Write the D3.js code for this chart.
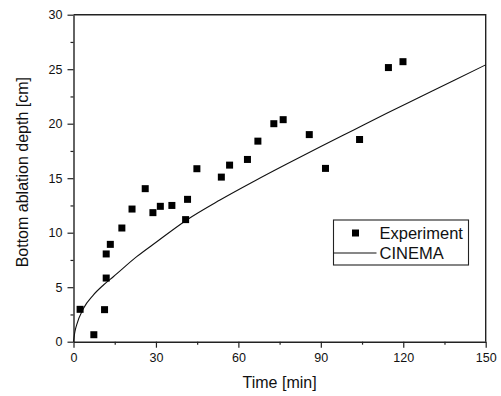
<!DOCTYPE html>
<html>
<head>
<meta charset="utf-8">
<script src="https://cdn.jsdelivr.net/npm/d3@7"></script>
<style>
  body { margin: 0; background: #fff; }
  svg { display: block; font-family: 'Liberation Sans', Arial, sans-serif; }
</style>
</head>
<body>
<svg id="chart" width="501" height="396"></svg>
<script>
// experiment points
const expTime = [2.4, 7.4, 11.3, 11.9, 11.9, 13.4, 17.6, 21.3, 26.1, 28.9, 31.6, 35.8, 40.8, 41.5, 44.9, 53.8, 56.8, 63.3, 67.1, 72.9, 76.3, 85.8, 91.7, 104.1, 114.6, 119.9];
const expDepth = [2.97, 0.64, 2.94, 5.84, 8.05, 8.93, 10.43, 12.17, 14.04, 11.84, 12.42, 12.5, 11.2, 13.06, 15.87, 15.1, 16.2, 16.72, 18.4, 20.0, 20.37, 19.0, 15.9, 18.55, 25.15, 25.69];

// CINEMA curve, sampled along the drawn line
const cinemaTime = [0, 0.5, 1.15, 3.6, 7.2, 10.9, 14.5, 23, 30.3, 41.2, 53.3, 65.4, 77.6, 90, 101.8, 114, 126.1, 138.2, 150];
const cinemaDepth = [0, 0.9, 1.55, 3.05, 4.28, 5.2, 5.96, 7.8, 9.17, 11.17, 13.0, 14.68, 16.3, 17.9, 19.4, 20.95, 22.45, 23.95, 25.4];

const xTicks = [0, 30, 60, 90, 120, 150];
const yTicks = [0, 5, 10, 15, 20, 25, 30];
const legendLabels = ['Experiment', 'CINEMA'];

const margin = { top: 14.7, right: 501 - 485.7, bottom: 396 - 341.7, left: 73.5 };
const width = 501 - margin.left - margin.right;
const height = 396 - margin.top - margin.bottom;

const svg = d3.select('#chart');
const g = svg.append('g').attr('transform', `translate(${margin.left},${margin.top})`);

const x = d3.scaleLinear([0, 150], [0, width]);
const y = d3.scaleLinear([0, 30], [height, 0]);

const axisColor = '#222';

// minor ticks (halfway between majors)
g.append('g')
	.attr('transform', `translate(0,${height})`)
	.call(d3.axisBottom(x).tickValues(d3.range(15, 150, 30)).tickSize(3).tickSizeOuter(0).tickFormat(''))
	.call(s => s.select('.domain').remove());
g.append('g')
	.call(d3.axisLeft(y).tickValues(d3.range(2.5, 30, 5)).tickSize(3).tickSizeOuter(0).tickFormat(''))
	.call(s => s.select('.domain').remove());

// major axes
g.append('g')
	.attr('transform', `translate(0,${height})`)
	.call(d3.axisBottom(x).tickValues(xTicks).tickSize(6).tickSizeOuter(0).tickPadding(5));
g.append('g')
	.call(d3.axisLeft(y).tickValues(yTicks).tickSize(6).tickSizeOuter(0).tickPadding(5));

g.selectAll('.tick line').attr('stroke', axisColor).attr('stroke-width', 1.2);
g.selectAll('.domain').attr('stroke', axisColor).attr('stroke-width', 1.4);
g.selectAll('.tick text').attr('font-size', 12.5).attr('fill', '#111').attr('font-family', "'Liberation Sans', Arial, sans-serif");

// top and right frame
g.append('path')
	.attr('d', `M0,0H${width}V${height}`)
	.attr('fill', 'none')
	.attr('stroke', axisColor)
	.attr('stroke-width', 1.4);

// CINEMA line
const line = d3.line().x((d, i) => x(cinemaTime[i])).y(d => y(d)).curve(d3.curveMonotoneX);
g.append('path')
	.attr('d', line(cinemaDepth))
	.attr('fill', 'none')
	.attr('stroke', '#111')
	.attr('stroke-width', 1.1);

// experiment squares
const sz = 7;
g.selectAll('.pt')
	.data(expDepth)
	.join('rect')
	.attr('class', 'pt')
	.attr('x', (d, i) => x(expTime[i]) - sz / 2)
	.attr('y', d => y(d) - sz / 2)
	.attr('width', sz)
	.attr('height', sz)
	.attr('fill', '#000');

// axis titles
svg.append('text')
	.attr('x', margin.left + width / 2)
	.attr('y', 388)
	.attr('text-anchor', 'middle')
	.attr('font-size', 16)
	.attr('fill', '#111')
	.text('Time [min]');
svg.append('text')
	.attr('transform', `translate(28,${margin.top + height / 2 - 6}) rotate(-90)`)
	.attr('text-anchor', 'middle')
	.attr('font-size', 16)
	.attr('fill', '#111')
	.text('Bottom ablation depth [cm]');

// legend
const lg = svg.append('g').attr('transform', 'translate(333.5,220)');
lg.append('rect')
	.attr('width', 135)
	.attr('height', 45)
	.attr('fill', '#fff')
	.attr('stroke', axisColor)
	.attr('stroke-width', 1.1);
lg.append('rect')
	.attr('x', 22 - 3.5)
	.attr('y', 13 - 3.5)
	.attr('width', sz)
	.attr('height', sz)
	.attr('fill', '#000');
lg.append('line')
	.attr('x1', 0).attr('x2', 43)
	.attr('y1', 33).attr('y2', 33)
	.attr('stroke', '#111').attr('stroke-width', 1.1);
lg.selectAll('.lt')
	.data(legendLabels)
	.join('text')
	.attr('class', 'lt')
	.attr('x', 46)
	.attr('y', (d, i) => 18.5 + i * 20)
	.attr('font-size', 16.5)
	.attr('fill', '#111')
	.text(d => d);
</script>
</body>
</html>
